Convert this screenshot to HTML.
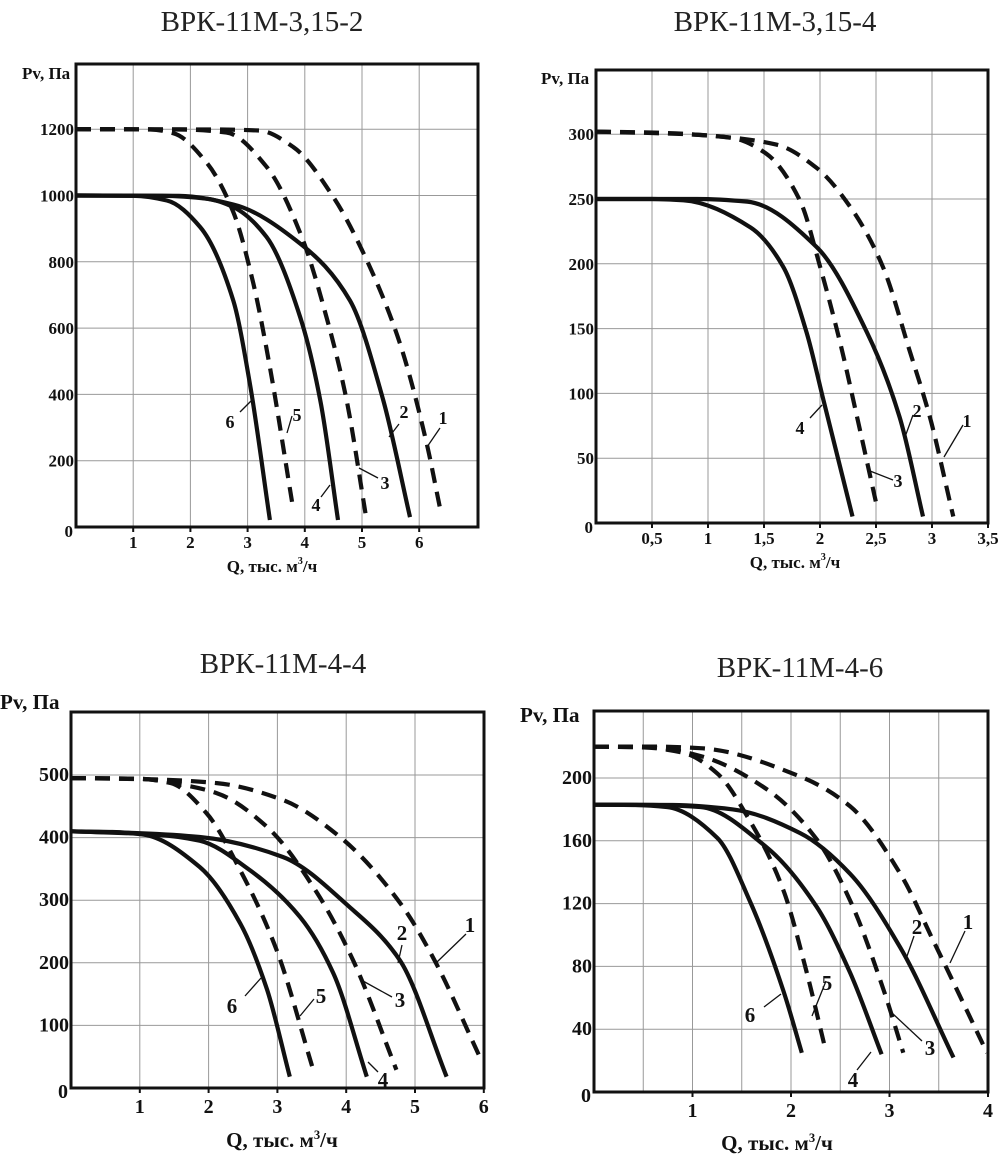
<!DOCTYPE html>
<html><head><meta charset="utf-8"><style>
body{margin:0;background:#fff;}
svg{display:block}
text{font-family:"Liberation Serif",serif;fill:#111}
.t{font-size:29px;fill:#222}
.b{font-weight:bold}
</style></head><body>
<svg id="s" width="1000" height="1160" xmlns="http://www.w3.org/2000/svg"></svg>
<script>
const S=document.getElementById('s');let h='';
function mono(p){const n=p.length,dx=[],m=[],t=[];
for(let i=0;i<n-1;i++){dx[i]=p[i+1][0]-p[i][0];m[i]=(p[i+1][1]-p[i][1])/dx[i];}
t[0]=m[0];t[n-1]=m[n-2];
for(let i=1;i<n-1;i++){if(m[i-1]*m[i]<=0)t[i]=0;else{const w1=2*dx[i]+dx[i-1],w2=dx[i]+2*dx[i-1];t[i]=(w1+w2)/(w1/m[i-1]+w2/m[i]);}}
let d='M'+p[0][0].toFixed(1)+' '+p[0][1].toFixed(1);
for(let i=0;i<n-1;i++){const a=dx[i]/3;
d+=` C${(p[i][0]+a).toFixed(1)} ${(p[i][1]+a*t[i]).toFixed(1)} ${(p[i+1][0]-a).toFixed(1)} ${(p[i+1][1]-a*t[i+1]).toFixed(1)} ${p[i+1][0].toFixed(1)} ${p[i+1][1].toFixed(1)}`;}
return d;}
function chart(c){
 const X=q=>c.x0+q*c.sx, Y=p=>c.y0-p*c.sy;
 for(const g of c.gx){h+=`<line x1="${X(g)}" y1="${c.top}" x2="${X(g)}" y2="${c.y0}" stroke="#999" stroke-width="1"/>`;}
 for(const g of c.gy){h+=`<line x1="${c.x0}" y1="${Y(g)}" x2="${c.right}" y2="${Y(g)}" stroke="#999" stroke-width="1"/>`;}
 h+=`<rect x="${c.x0}" y="${c.top}" width="${c.right-c.x0}" height="${c.y0-c.top}" fill="none" stroke="#111" stroke-width="3"/>`;
 for(const g of c.xl){h+=`<line x1="${X(g[0])}" y1="${c.y0}" x2="${X(g[0])}" y2="${c.y0+5}" stroke="#111" stroke-width="2"/><text class="b" x="${X(g[0])}" y="${c.y0+c.xo}" font-size="${c.fs}" text-anchor="middle">${g[1]}</text>`;}
 for(const g of c.yl){h+=`<text class="b" x="${c.x0-2}" y="${Y(g)+6}" font-size="${c.fs}" text-anchor="end">${g}</text>`;}
 h+=`<text class="b" x="${c.x0-3}" y="${c.y0+10}" font-size="${c.fs}" text-anchor="end">0</text>`;
 for(const cv of c.cv){const pts=cv.p.map(p=>[X(p[0]),Y(p[1])]);
  h+=`<path d="${mono(pts)}" fill="none" stroke="#111" stroke-width="4.2" stroke-linecap="butt" ${cv.d?'stroke-dasharray="15 9"':''}/>`;}
 for(const l of c.lb){h+=`<text class="b" x="${l[0]}" y="${l[1]}" font-size="${c.fs+1}" text-anchor="middle">${l[2]}</text><line x1="${l[3]}" y1="${l[4]}" x2="${l[5]}" y2="${l[6]}" stroke="#111" stroke-width="1.3"/>`;}
 h+=`<text class="t" x="${c.tx}" y="${c.ty}" text-anchor="middle">${c.title}</text>`;
 h+=`<text class="b" x="${c.px}" y="${c.py}" font-size="${c.pfs}" >Pv, Па</text>`;
 h+=`<text class="b" x="${c.qx}" y="${c.qy}" font-size="${c.pfs}" text-anchor="middle">Q, тыс. м<tspan font-size="${c.pfs*0.6}" dy="-8">3</tspan><tspan dy="8">/ч</tspan></text>`;
}
chart({x0:76,sx:57.2,y0:527,sy:66.3/200,top:64,right:478,gx:[1,2,3,4,5,6],gy:[200,400,600,800,1000,1200],
 xl:[[1,1],[2,2],[3,3],[4,4],[5,5],[6,6]],yl:[200,400,600,800,1000,1200],fs:17,xo:21,
 title:'ВРК-11М-3,15-2',tx:262,ty:31,px:22,py:79,pfs:17,qx:272,qy:572,
 cv:[{d:1,p:[[0,1200],[2.5,1199],[3.2,1196],[3.8,1146],[4.5,995],[5.08,806],[5.66,555],[6.13,253],[6.36,60]]},
 {d:1,p:[[0,1200],[1.8,1199],[2.63,1190],[3.33,1087],[3.92,887],[4.38,633],[4.73,383],[5.08,21]]},
 {d:1,p:[[0,1200],[1.3,1199],[1.7,1188],[2.28,1100],[2.75,950],[3.1,735],[3.39,482],[3.8,51]]},
 {d:0,p:[[0,1000],[1.8,999],[2.75,973],[3.92,855],[4.79,683],[5.37,383],[5.84,30]]},
 {d:0,p:[[0,1000],[1.5,999],[2.3,990],[2.75,965],[3.33,875],[3.92,633],[4.27,383],[4.58,21]]},
 {d:0,p:[[0,1000],[1.0,999],[1.59,985],[2.17,905],[2.75,683],[3.04,432],[3.39,21]]}],
 lb:[[230,428,'6',240,412,251,401],[297,421,'5',287,433,292,416],[316,511,'4',321,497,330,485],[385,489,'3',378,478,359,468],[404,418,'2',399,424,389,437],[443,424,'1',440,428,427,447]]});
chart({x0:596,sx:112,y0:523,sy:1.296,top:70,right:988,gx:[.5,1,1.5,2,2.5,3],gy:[50,100,150,200,250,300],
 xl:[[.5,'0,5'],[1,1],[1.5,'1,5'],[2,2],[2.5,'2,5'],[3,3],[3.5,'3,5']],yl:[50,100,150,200,250,300],fs:17,xo:21,
 title:'ВРК-11М-3,15-4',tx:775,ty:31,px:541,py:84,pfs:17,qx:795,qy:568,
 cv:[{d:1,p:[[0,302],[0.6,301],[0.99,299],[1.61,292],[1.97,274],[2.27,244],[2.56,198],[2.8,133],[2.98,82],[3.19,5]]},
 {d:1,p:[[0,302],[0.8,300],[1.22,297],[1.52,285],[1.82,249],[2.0,198],[2.18,139],[2.33,82],[2.51,12]]},
 {d:0,p:[[0,250],[0.9,250],[1.35,248],[1.97,213],[2.42,147],[2.71,82],[2.92,5]]},
 {d:0,p:[[0,250],[0.5,250],[0.78,249],[1.38,228],[1.67,198],[1.88,147],[2.03,95],[2.29,5]]}],
 lb:[[800,434,'4',810,418,822,405],[898,487,'3',893,480,870,471],[917,417,'2',913,415,905,437],[967,427,'1',963,425,944,457]]});
chart({x0:71,sx:68.8,y0:1088,sy:0.626,top:712,right:484,gx:[1,2,3,4,5],gy:[100,200,300,400,500],
 xl:[[1,1],[2,2],[3,3],[4,4],[5,5],[6,6]],yl:[100,200,300,400,500],fs:20,xo:25,
 title:'ВРК-11М-4-4',tx:283,ty:673,px:0,py:709,pfs:21,qx:282,qy:1147,
 cv:[{d:1,p:[[0,495],[1.2,493],[2.12,487],[3.08,460],[3.91,401],[4.78,296],[5.26,209],[5.94,50]]},
 {d:1,p:[[0,495],[1.0,494],[1.48,487],[2.12,471],[2.85,417],[3.58,311],[4.1,204],[4.73,29]]},
 {d:1,p:[[0,495],[1.0,494],[1.45,487],[1.97,439],[2.46,348],[2.99,220],[3.52,29]]},
 {d:0,p:[[0,410],[1.0,407],[1.87,401],[3.08,369],[4.05,289],[4.78,204],[5.46,18]]},
 {d:0,p:[[0,410],[1.2,405],[1.87,395],[2.6,348],[3.33,273],[3.81,184],[4.3,18]]},
 {d:0,p:[[0,410],[0.6,409],[1.05,405],[1.87,353],[2.46,263],[2.85,157],[3.18,18]]}],
 lb:[[232,1013,'6',245,996,261,978],[321,1003,'5',314,999,300,1016],[383,1087,'4',378,1072,368,1062],[400,1007,'3',392,997,363,981],[402,940,'2',402,945,398,963],[470,932,'1',466,934,437,962]]});
chart({x0:594,sx:98.5,y0:1092,sy:1.57,top:711,right:988,gx:[.5,1,1.5,2,2.5,3,3.5],gy:[40,80,120,160,200],
 xl:[[1,1],[2,2],[3,3],[4,4]],yl:[40,80,120,160,200],fs:20,xo:25,
 title:'ВРК-11М-4-6',tx:800,ty:677,px:520,py:722,pfs:21,qx:777,qy:1150,
 cv:[{d:1,p:[[0,220],[0.6,220],[1.08,219],[2.09,201],[2.6,182],[3.11,139],[3.44,97],[3.99,25]]},
 {d:1,p:[[0,220],[0.6,219.5],[1.08,214],[1.75,193],[2.26,161],[2.6,122],[2.94,65],[3.14,25]]},
 {d:1,p:[[0,220],[0.5,219.5],[0.91,216],[1.25,203],[1.58,173],[1.92,129],[2.16,76],[2.35,27]]},
 {d:0,p:[[0,183],[0.8,182.8],[1.41,180],[2.09,165],[2.6,139],[3.11,92],[3.65,22]]},
 {d:0,p:[[0,183],[0.6,182.8],[1.08,181.5],[1.75,156],[2.26,118],[2.6,76],[2.92,24]]},
 {d:0,p:[[0,183],[0.4,182.8],[0.74,181.5],[1.25,162],[1.58,122],[1.92,65],[2.11,25]]}],
 lb:[[750,1022,'6',764,1007,781,994],[827,990,'5',826,981,812,1016],[853,1087,'4',857,1070,871,1052],[930,1055,'3',922,1041,892,1013],[917,934,'2',914,936,906,959],[968,929,'1',965,931,950,963]]});
S.innerHTML=h;
</script>
</body></html>
